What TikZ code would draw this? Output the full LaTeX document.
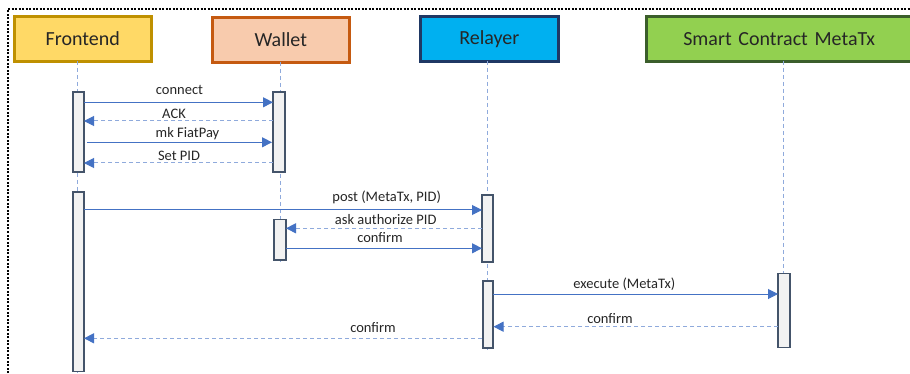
\documentclass[tikz,border=0pt]{standalone}
\usepackage{fontspec}
\setmainfont{Carlito}
\usetikzlibrary{arrows.meta}
\definecolor{arrowblue}{HTML}{4472C4}
\definecolor{lightblue}{HTML}{8FAADC}
\definecolor{actborder}{HTML}{44546A}
\definecolor{actfill}{HTML}{F2F2F2}
\definecolor{txt}{HTML}{262626}
\definecolor{feFill}{HTML}{FFD966}
\definecolor{feDraw}{HTML}{BF9000}
\definecolor{waFill}{HTML}{F8CBAD}
\definecolor{waDraw}{HTML}{C55A11}
\definecolor{reFill}{HTML}{00B0F0}
\definecolor{reDraw}{HTML}{1F3864}
\definecolor{scFill}{HTML}{92D050}
\definecolor{scDraw}{HTML}{3B5E2B}
\tikzset{
  header/.style={draw, line width=2.6pt, minimum height=45pt, inner sep=0pt, text=txt, font=\fontsize{20}{24}\selectfont, anchor=north west},
  lifeline/.style={lightblue, dash pattern=on 4pt off 3pt, line width=1pt},
  act/.style={draw=actborder, fill=actfill, line width=1.8pt},
  msg/.style={arrowblue, line width=1pt, -{Triangle[length=10pt,width=10pt]}},
  reply/.style={lightblue, line width=1pt, dash pattern=on 4pt off 3pt, -{Triangle[length=10pt,width=10pt,color=arrowblue,fill=arrowblue]}},
  lbl/.style={text=txt, font=\fontsize{14.5}{17}\selectfont, inner sep=0pt}
}
\begin{document}
\begin{tikzpicture}[x=1pt,y=-1pt]
\useasboundingbox (0,0) rectangle (910,374);
\fill[white] (0,0) rectangle (910,374);
% frame
\draw[black, line width=2pt, dash pattern=on 2pt off 1.5pt] (8,380) -- (8,9) -- (920,9);
% headers
\node[header, fill=feFill, draw=feDraw, minimum width=137pt] (fe) at (13,15) {Frontend};
\node[header, fill=waFill, draw=waDraw, minimum width=137pt] (wa) at (211,16) {Wallet};
\node[header, fill=reFill, draw=reDraw, minimum width=138pt] (re) at (419,15) {Relayer};
\node[header, fill=scFill, draw=scDraw, minimum width=275pt, text width=275pt, align=left] (sc) at (645,15) {\hspace{37pt}Smart Contract MetaTx};
% lifelines
\coordinate (feE) at (77.7,374);
\coordinate (waE) at (280.7,262);
\coordinate (reE) at (487.7,350);
\coordinate (scE) at (783.3,274);
\draw[lifeline] (77.7,61) -- (feE);
\draw[lifeline] (280.7,62) -- (waE);
\draw[lifeline] (487.7,61) -- (reE);
\draw[lifeline] (783.3,61) -- (scE);
% activation boxes
\draw[act] (73,92) rectangle (84,172);
\draw[act] (273,92) rectangle (285,172);
\draw[act] (73.3,192) rectangle (84,371.5);
\draw[act] (274.3,219.5) rectangle (285.7,260);
\draw[act] (482,195) rectangle (493,262);
\draw[act] (482.7,281) rectangle (493,348);
\draw[act] (778.3,273.5) rectangle (790,347.5);
% message anchors
\coordinate (m1s) at (84,102.3);   \coordinate (m1e) at (273,102.3);
\coordinate (m2s) at (273,121);    \coordinate (m2e) at (84,121);
\coordinate (m3s) at (87,142.3);   \coordinate (m3e) at (272,142.3);
\coordinate (m4s) at (273,163);    \coordinate (m4e) at (84,163);
\coordinate (m5s) at (84,210);     \coordinate (m5e) at (482,210);
\coordinate (m6s) at (482,228.3);  \coordinate (m6e) at (286,228.3);
\coordinate (m7s) at (286,248.3);  \coordinate (m7e) at (482,248.3);
\coordinate (m8s) at (493,294);    \coordinate (m8e) at (778,294);
\coordinate (m9s) at (778,326.7);  \coordinate (m9e) at (493.5,326.7);
\coordinate (m10s) at (482,338.3); \coordinate (m10e) at (84,338.3);
% messages
\draw[msg] (m1s) -- (m1e);
\draw[reply] (m2s) -- (m2e);
\draw[msg] (m3s) -- (m3e);
\draw[reply] (m4s) -- (m4e);
\draw[msg] (m5s) -- (m5e);
\draw[reply] (m6s) -- (m6e);
\draw[msg] (m7s) -- (m7e);
\draw[msg] (m8s) -- (m8e);
\draw[reply] (m9s) -- (m9e);
\draw[reply] (m10s) -- (m10e);
% labels
\node[lbl] (l1) at (179.5,90) {connect};
\node[lbl] (l2) at (174,113.7) {ACK};
\node[lbl] (l3) at (187.5,133.7) {mk FiatPay};
\node[lbl] (l4) at (179,155.7) {Set PID};
\node[lbl] (l5) at (386.7,197.7) {post (MetaTx, PID)};
\node[lbl] (l6) at (385.7,219.3) {ask authorize PID};
\node[lbl] (l7) at (380,237.3) {confirm};
\node[lbl] (l8) at (624.3,284.7) {execute (MetaTx)};
\node[lbl] (l9) at (610,318.3) {confirm};
\node[lbl] (l10) at (373,327.7) {confirm};
\end{tikzpicture}
\end{document}
